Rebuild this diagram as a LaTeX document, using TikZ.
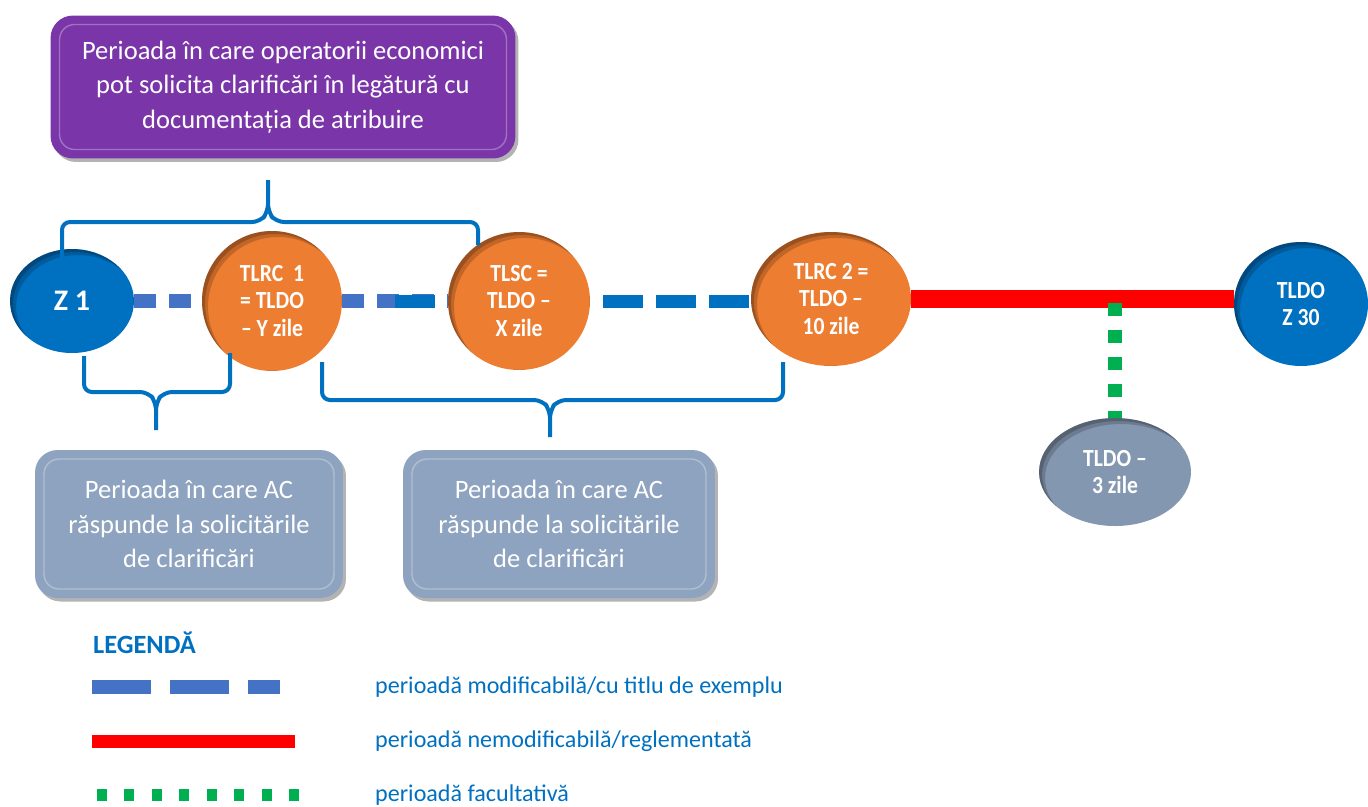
\documentclass[tikz,border=0pt]{standalone}
\usepackage{fontspec}
\setmainfont{Carlito}
\newfontfamily\narrowfont{Carlito}[FakeStretch=0.88, BoldFeatures={FakeStretch=0.88}]
\usepackage{tikz}
\usetikzlibrary{positioning, calc, shapes.geometric, shadows}

\definecolor{boxpurple}{HTML}{7A36A8}
\definecolor{boxgrey}{HTML}{8EA3BF}
\definecolor{msorange}{HTML}{ED7D31}
\definecolor{msblue}{HTML}{0070C0}
\definecolor{msgrey}{HTML}{8497B0}
\definecolor{dashblue}{HTML}{4472C4}
\definecolor{fixred}{HTML}{FF0000}
\definecolor{optgreen}{HTML}{00B050}

\begin{document}
\begin{tikzpicture}[
    x=0.02cm, y=-0.02cm,
    % styles
    infobox/.style={
        rounded corners=0.45cm, align=center, text=white,
        font=\fontsize{15.1}{19.8}\selectfont,
        drop shadow={shadow xshift=0.06cm, shadow yshift=-0.07cm, opacity=0.6},
        path picture={\draw[white, opacity=0.3, line width=0.8pt, rounded corners=0.3cm]
            ([shift={(9,9)}]path picture bounding box.north west) rectangle
            ([shift={(-9,-9)}]path picture bounding box.south east);}
    },
    purplebox/.style={infobox, fill=boxpurple, minimum width=9.3cm, minimum height=2.86cm},
    greybox/.style={infobox, fill=boxgrey, minimum height=2.96cm},
    inshadow/.style={
        path picture={
            \foreach \d/\o in {3/0.2, 6/0.18}{
            \fill[black, opacity=\o, even odd rule]
                (path picture bounding box.south west) rectangle (path picture bounding box.north east)
                let \p1=(path picture bounding box.north east), \p2=(path picture bounding box.center) in
                ($(\p2)+(\d,\d)$) ellipse [x radius={\x1-\x2}, y radius={\y1-\y2}];}
        }
    },
    milestone/.style={
        ellipse, inner sep=0pt, align=center, text=white, inshadow,
        font=\narrowfont\bfseries\fontsize{14}{15.4}\selectfont
    },
    brace/.style={draw=msblue, line width=0.08cm, rounded corners=0.16cm},
    moddash/.style={draw=dashblue, line width=0.28cm, dash pattern=on 0.44cm off 0.26cm},
    darkdash/.style={draw=msblue, line width=0.26cm, dash pattern=on 0.8cm off 0.26cm, dash phase=0.8cm},
    fixline/.style={draw=fixred, line width=0.36cm},
    optdash/.style={draw=optgreen, line width=0.28cm, dash pattern=on 0.26cm off 0.28cm, dash phase=0.46cm},
    legtext/.style={anchor=west, text=msblue, font=\fontsize{13.7}{16}\selectfont}
]
    \useasboundingbox (0,0) rectangle (1368,806);

    % --- 1. PERIOD BOXES ---
    \node[purplebox] (askbox) at (283,87) {
        Perioada în care operatorii economici\\
        pot solicita clarificări în legătură cu\\
        documentația de atribuire
    };
    \node[greybox, minimum width=6.16cm] (answer1) at (189,524) {
        Perioada în care AC\\
        răspunde la solicitările\\
        de clarificări
    };
    \node[greybox, minimum width=6.24cm] (answer2) at (559,524) {
        Perioada în care AC\\
        răspunde la solicitările\\
        de clarificări
    };

    % --- 2. MILESTONES ---
    \node[milestone, fill=msblue, minimum width=2.48cm, minimum height=2.08cm,
          font=\bfseries\fontsize{17}{20}\selectfont] (z1) at (72,301) {Z 1};
    \node[milestone, fill=msorange, minimum width=2.8cm, minimum height=2.8cm] (tlrc1) at (272,301) {
        TLRC\ \ 1\\= TLDO\\– Y zile};
    \node[milestone, fill=msorange, minimum width=2.84cm, minimum height=2.76cm] (tlsc) at (519,301) {
        TLSC =\\TLDO –\\X zile};
    \node[milestone, fill=msorange, minimum width=3.2cm, minimum height=2.68cm] (tlrc2) at (831,299) {
        TLRC 2 =\\TLDO –\\10 zile};
    \node[milestone, fill=msblue, minimum width=2.68cm, minimum height=2.48cm] (tldo) at (1301,304) {
        TLDO\\Z 30};
    \node[milestone, fill=msgrey, minimum width=3.04cm, minimum height=2.16cm] (tldo3) at (1115,472) {
        TLDO –\\3 zile};

    % --- 3. PERIODS ON THE TIME LINE ---
    \draw[moddash] (z1) -- (tlrc1);
    \draw[moddash] (tlrc1) -- (tlsc);
    \draw[msblue, line width=0.26cm] ($(tlrc1.east)!0.5!(tlsc.west)$) -- ($(tlrc1.east)!0.88!(tlsc.west)$);
    \draw[darkdash] (tlsc.east) -- (tlsc.east -| tlrc2.west);
    \draw[fixline] (tlrc2.east) -- (tlrc2.east -| tldo.west);
    \draw[optdash] (tldo3.north |- tlrc2.east) -- (tldo3.north);

    % --- 4. BRACES ---
    \draw[brace] (62,262) -- (62,222) -- (260,222) -- (268,212) -- (268,180)
        (268,180) -- (268,212) -- (276,222) -- (478,222) -- (478,245);
    \draw[brace] (84,356) -- (84,392) -- (148,392) -- (156,402) -- (156,430)
        (156,430) -- (156,402) -- (164,392) -- (230,392) -- (230,353);
    \draw[brace] (322,362) -- (322,400) -- (542,400) -- (550,410) -- (550,437)
        (550,437) -- (550,410) -- (558,400) -- (783,400) -- (783,362);

    % --- 5. LEGEND ---
    \node[anchor=west, text=msblue, font=\bfseries\fontsize{15}{17}\selectfont] (legend) at (87,643) {LEGENDĂ};
    \node[legtext] (legmod) at (369,687) {perioadă modificabilă/cu titlu de exemplu};
    \node[legtext] (legfix) at (369,741) {perioadă nemodificabilă/reglementată};
    \node[legtext] (legopt) at (369,795) {perioadă facultativă};
    \draw[dashblue, line width=0.28cm, dash pattern=on 1.18cm off 0.38cm] (92,687) -- (280,687);
    \draw[fixred, line width=0.26cm] (92,741) -- (295,741);
    \draw[optgreen, line width=0.24cm, dash pattern=on 0.2cm off 0.35cm] (97,795) -- (300,795);

\end{tikzpicture}
\end{document}
